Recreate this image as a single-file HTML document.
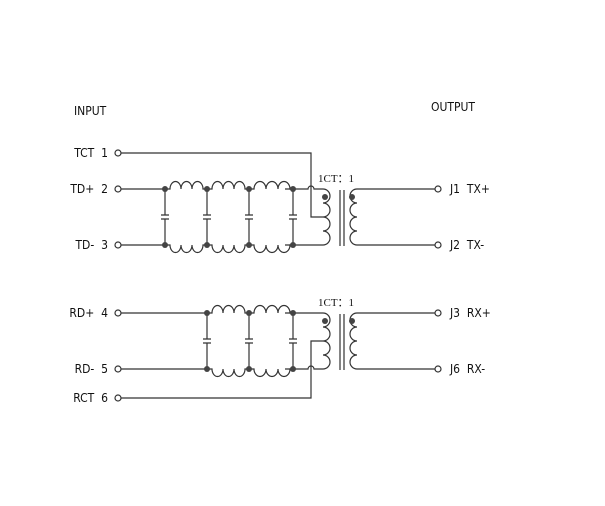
<!DOCTYPE html>
<html><head><style>
html,body{margin:0;padding:0;background:#fff;}
svg text{font-family:"DejaVu Sans Condensed","Liberation Sans",sans-serif;font-size:12px;fill:#111;white-space:pre;}
</style></head><body>
<svg width="605" height="501" viewBox="0 0 605 501" xmlns="http://www.w3.org/2000/svg" xml:space="preserve">
<g fill="none" stroke="#333" stroke-width="1.2">
<path d="M121,153 H311 V217 H323"/>
<path d="M121,189 H165 M285,189 H308 a3,3 0 0 1 6,0 H323"/>
<path d="M121,245 H165 M285,245 H323"/>
<path d="M165,189 h5 a5.5,7.5 0 0 1 11,0 a5.5,7.5 0 0 1 11,0 a5.5,7.5 0 0 1 11,0 h4"/>
<path d="M207,189 h5 a5.5,7.5 0 0 1 11,0 a5.5,7.5 0 0 1 11,0 a5.5,7.5 0 0 1 11,0 h4"/>
<path d="M249,189 h5 a6,7.5 0 0 1 12,0 a6,7.5 0 0 1 12,0 a6,7.5 0 0 1 12,0 h3"/>
<path d="M165,245 h5 a5.5,7.5 0 0 0 11,0 a5.5,7.5 0 0 0 11,0 a5.5,7.5 0 0 0 11,0 h4"/>
<path d="M207,245 h5 a5.5,7.5 0 0 0 11,0 a5.5,7.5 0 0 0 11,0 a5.5,7.5 0 0 0 11,0 h4"/>
<path d="M249,245 h5 a6,7.5 0 0 0 12,0 a6,7.5 0 0 0 12,0 a6,7.5 0 0 0 12,0 h3"/>
<path d="M165,189 V215 M161,215 h8 M161,219 h8 M165,219 V245"/>
<path d="M207,189 V215 M203,215 h8 M203,219 h8 M207,219 V245"/>
<path d="M249,189 V215 M245,215 h8 M245,219 h8 M249,219 V245"/>
<path d="M293,189 V215 M289,215 h8 M289,219 h8 M293,219 V245"/>
<path d="M323,189 a7,7 0 0 1 0,14 a7,7 0 0 1 0,14 a7,7 0 0 1 0,14 a7,7 0 0 1 0,14"/>
<path d="M340,190 V246 M344,190 V246"/>
<path d="M357,189 a7,7 0 0 0 0,14 a7,7 0 0 0 0,14 a7,7 0 0 0 0,14 a7,7 0 0 0 0,14"/>
<path d="M357,189 H435 M357,245 H435"/>
<path d="M121,313 H207 M285,313 H323"/>
<path d="M121,369 H207 M285,369 H308 a3,3 0 0 1 6,0 H323"/>
<path d="M121,398 H311 V341 H323"/>
<path d="M207,313 h5 a5.5,7.5 0 0 1 11,0 a5.5,7.5 0 0 1 11,0 a5.5,7.5 0 0 1 11,0 h4"/>
<path d="M249,313 h5 a6,7.5 0 0 1 12,0 a6,7.5 0 0 1 12,0 a6,7.5 0 0 1 12,0 h3"/>
<path d="M207,369 h5 a5.5,7.5 0 0 0 11,0 a5.5,7.5 0 0 0 11,0 a5.5,7.5 0 0 0 11,0 h4"/>
<path d="M249,369 h5 a6,7.5 0 0 0 12,0 a6,7.5 0 0 0 12,0 a6,7.5 0 0 0 12,0 h3"/>
<path d="M207,313 V339 M203,339 h8 M203,343 h8 M207,343 V369"/>
<path d="M249,313 V339 M245,339 h8 M245,343 h8 M249,343 V369"/>
<path d="M293,313 V339 M289,339 h8 M289,343 h8 M293,343 V369"/>
<path d="M323,313 a7,7 0 0 1 0,14 a7,7 0 0 1 0,14 a7,7 0 0 1 0,14 a7,7 0 0 1 0,14"/>
<path d="M340,314 V370 M344,314 V370"/>
<path d="M357,313 a7,7 0 0 0 0,14 a7,7 0 0 0 0,14 a7,7 0 0 0 0,14 a7,7 0 0 0 0,14"/>
<path d="M357,313 H435 M357,369 H435"/>
<circle cx="118" cy="153" r="3"/><circle cx="118" cy="189" r="3"/><circle cx="118" cy="245" r="3"/>
<circle cx="118" cy="313" r="3"/><circle cx="118" cy="369" r="3"/><circle cx="118" cy="398" r="3"/>
<circle cx="438" cy="189" r="3"/><circle cx="438" cy="245" r="3"/>
<circle cx="438" cy="313" r="3"/><circle cx="438" cy="369" r="3"/>
</g>
<g fill="#444">
<circle cx="165" cy="189" r="3"/><circle cx="207" cy="189" r="3"/><circle cx="249" cy="189" r="3"/><circle cx="293" cy="189" r="3"/>
<circle cx="165" cy="245" r="3"/><circle cx="207" cy="245" r="3"/><circle cx="249" cy="245" r="3"/><circle cx="293" cy="245" r="3"/>
<circle cx="207" cy="313" r="3"/><circle cx="249" cy="313" r="3"/><circle cx="293" cy="313" r="3"/>
<circle cx="207" cy="369" r="3"/><circle cx="249" cy="369" r="3"/><circle cx="293" cy="369" r="3"/>
<circle cx="325" cy="197" r="3"/><circle cx="352" cy="197" r="3"/>
<circle cx="325" cy="321" r="3"/><circle cx="352" cy="321" r="3"/>
</g>
<text x="74" y="115">INPUT</text>
<text x="431" y="111">OUTPUT</text>
<text x="108" y="157" text-anchor="end">TCT  1</text>
<text x="108" y="193" text-anchor="end">TD+  2</text>
<text x="108" y="249" text-anchor="end">TD-  3</text>
<text x="108" y="317" text-anchor="end">RD+  4</text>
<text x="108" y="373" text-anchor="end">RD-  5</text>
<text x="108" y="402" text-anchor="end">RCT  6</text>
<text x="450" y="193">J1  TX+</text>
<text x="450" y="249">J2  TX-</text>
<text x="450" y="317">J3  RX+</text>
<text x="450" y="373">J6  RX-</text>
<text x="318" y="182" style="font-family:'Liberation Serif',serif;font-size:11px">1CT：1</text>
<text x="318" y="306" style="font-family:'Liberation Serif',serif;font-size:11px">1CT：1</text>
</svg>
</body></html>
